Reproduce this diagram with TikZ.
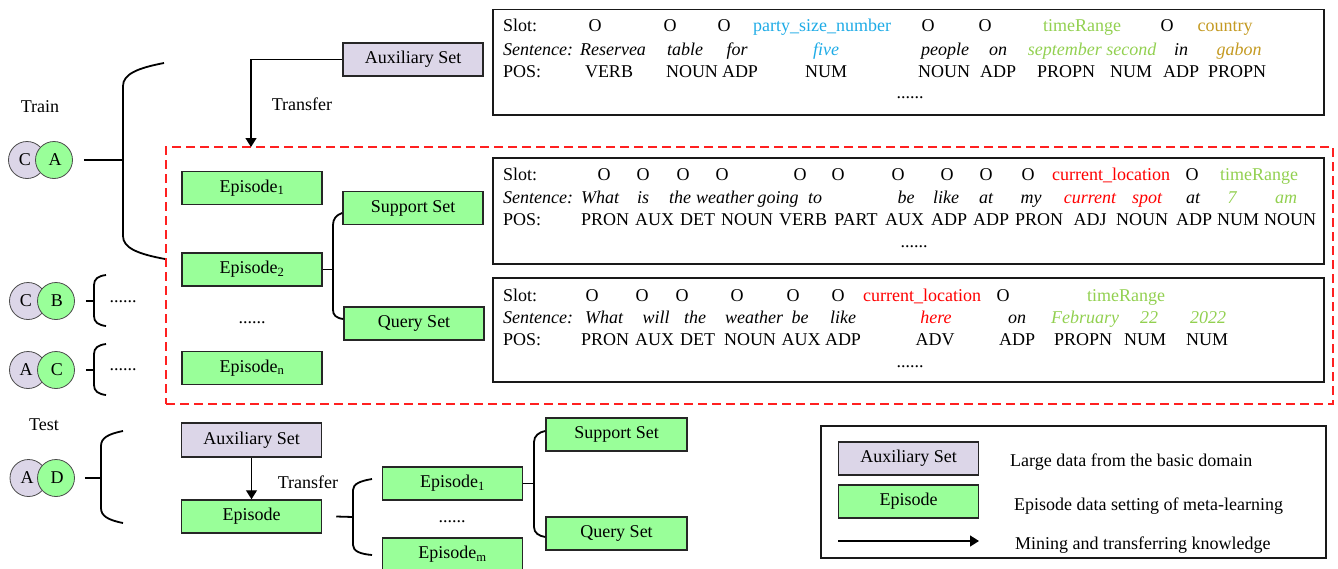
\documentclass[tikz,border=0pt]{standalone}
\usepackage{fontspec}
\setmainfont{Liberation Serif}
\usetikzlibrary{arrows.meta}
\definecolor{lav}{HTML}{DCD6E8}
\definecolor{epg}{HTML}{99FF99}
\definecolor{sblue}{HTML}{1EABE6}
\definecolor{sgreen}{HTML}{92D050}
\definecolor{sgold}{HTML}{C49A22}
\definecolor{sred}{HTML}{FF0000}
\definecolor{dred}{HTML}{FF2020}
\begin{document}
\begin{tikzpicture}[x=1pt,y=-1pt,
  font=\fontsize{18}{21}\selectfont,
  box/.style={draw=black!85, line width=1.5pt, minimum height=33pt, minimum width=140pt, inner sep=0pt},
  aux/.style={box, fill=lav},
  ep/.style={box, fill=epg},
  txtbox/.style={draw=black!90, line width=1.5pt, inner sep=0pt, minimum width=831pt},
  word/.style={anchor=base, inner sep=0pt},
  ital/.style={font=\fontsize{18}{21}\selectfont\itshape},
  lbl/.style={anchor=base west, inner sep=0pt},
  plain/.style={inner sep=0pt},
  brace/.style={line width=1.8pt, black},
  setc/.style={circle, draw=black!70, line width=0.8pt, minimum size=37pt, inner sep=0pt},
  arr/.style={line width=1.3pt, -{Triangle[length=9pt,width=11pt]}}]
\useasboundingbox (0,0) rectangle (1338,568);

% ---------- training part ----------
\node[plain] (train) at (40,107) {Train};
\node[setc, fill=lav] (c1) at (27,160) {};
\node[setc, fill=epg] (a1) at (54,160) {};
\node[plain] (c1t) at (25,160) {C};
\node[plain] (a1t) at (55,160) {A};
\node[setc, fill=lav] (c2) at (28,301) {};
\node[setc, fill=epg] (b2) at (56,301) {};
\node[plain] (c2t) at (26,301) {C};
\node[plain] (b2t) at (57,301) {B};
\node[setc, fill=lav] (a3) at (28,370) {};
\node[setc, fill=epg] (c3) at (56,370) {};
\node[plain] (a3t) at (26,370) {A};
\node[plain] (c3t) at (57,370) {C};

\coordinate (trb) at (123,160);
\coordinate (cbb) at (94,301);
\coordinate (acb) at (94,370);
\draw[brace] (164,63) .. controls (138,68) and (123,74) .. (123,86) -- (123,236)
  .. controls (123,248) and (138,254) .. (165,259);
\draw[brace] ([xshift=11pt]a1.east) -- (trb);
\draw[brace] (106,275) .. controls (98,276) and (94,279) .. (94,285) -- (94,316)
  .. controls (94,322) and (98,325) .. (106,326);
\draw[brace] ([xshift=11pt]b2.east) -- (cbb);
\draw[brace] (106,344) .. controls (98,345) and (94,348) .. (94,354) -- (94,385)
  .. controls (94,391) and (98,394) .. (106,395);
\draw[brace] ([xshift=11pt]c3.east) -- (acb);
\node[plain] (dcb) at (123,302) {......};
\node[plain] (dac) at (123,370) {......};

% red dashed episode region
\node[draw=dred, line width=1.5pt, dash pattern=on 9pt off 5pt, minimum width=1167pt,
  minimum height=257pt, inner sep=0pt] (region) at (749.5,275.5) {};

\node[aux] (taux) at (413,59.5) {Auxiliary Set};
\node[plain] (ttr) at (302,104) {Transfer};
\coordinate (tin) at (251,147);
\draw[arr] (taux.west) -| (tin);

\node[ep] (e1) at (252,188) {Episode\textsubscript{1}};
\node[ep] (e2) at (252,269.5) {Episode\textsubscript{2}};
\node[plain] (edots) at (252,323) {......};
\node[ep] (en) at (252,368) {Episode\textsubscript{n}};
\node[ep] (sup) at (413,208) {Support Set};
\node[ep] (que) at (414,323.5) {Query Set};
\coordinate (sq) at (333,269.5);
\draw[brace] (e2.east) -- (sq);
\draw[brace] ([yshift=-5pt]sup.west) .. controls (336,215) and (333,219) .. (333,225) -- (333,310)
  .. controls (333,315) and (336,318) .. ([yshift=4.5pt]que.west);

% ---------- example sentences ----------
\node[txtbox, minimum height=105.5pt] (box0) at (908.5,62.25) {};
\node[lbl] (s0) at (503,31.5) {Slot:};
\node[lbl, ital] (w0) at (503,55) {Sentence:};
\node[lbl] (p0) at (503,77) {POS:};
\foreach \x/\t [count=\i] in {595/O,670/O,724/O,822/\textcolor{sblue}{party\_size\_number},
  928/O,985/O,1082/\textcolor{sgreen}{timeRange},1167/O,1225/\textcolor{sgold}{country}}
  \node[word] (s0-\i) at (\x,31.5) {\t};
\foreach \x/\t [count=\i] in {613/Reservea,685/table,737/for,826/\textcolor{sblue}{five},
  945/people,998/on,1092/\textcolor{sgreen}{september second},1181/in,1239/\textcolor{sgold}{gabon}}
  \node[word, ital] (w0-\i) at (\x,55) {\t};
\foreach \x/\t [count=\i] in {609/VERB,692/NOUN,740/ADP,826/NUM,944/NOUN,998/ADP,
  1066/PROPN,1131/NUM,1181/ADP,1237/PROPN}
  \node[word] (p0-\i) at (\x,77) {\t};
\node[plain] (d0) at (910,98) {......};

\node[txtbox, minimum height=106pt] (box1) at (908.5,211) {};
\node[lbl] (s1) at (503,180) {Slot:};
\node[lbl, ital] (w1) at (503,203.3) {Sentence:};
\node[lbl] (p1) at (503,225) {POS:};
\foreach \x/\t [count=\i] in {604/O,643/O,683/O,722/O,800/O,838/O,898/O,947/O,986/O,1028/O,
  1111/\textcolor{sred}{current\_location},1192/O,1259/\textcolor{sgreen}{timeRange}}
  \node[word] (s1-\i) at (\x,180) {\t};
\foreach \x/\t [count=\i] in {600/What,643/is,680/the,725/weather,778/going,815/to,906/be,
  946/like,986/at,1031/my,1090/\textcolor{sred}{current},1147/\textcolor{sred}{spot},1193/at,
  1232/\textcolor{sgreen}{7},1286/\textcolor{sgreen}{am}}
  \node[word, ital] (w1-\i) at (\x,203.3) {\t};
\foreach \x/\t [count=\i] in {605/PRON,654.5/AUX,697.5/DET,747/NOUN,803/VERB,856/PART,904.5/AUX,
  949/ADP,991/ADP,1039/PRON,1090/ADJ,1142/NOUN,1194/ADP,1238/NUM,1290/NOUN}
  \node[word] (p1-\i) at (\x,225) {\t};
\node[plain] (d1) at (914,247) {......};

\node[txtbox, minimum height=104pt] (box2) at (908.5,330) {};
\node[lbl] (s2) at (503,301.7) {Slot:};
\node[lbl, ital] (w2) at (503,323.3) {Sentence:};
\node[lbl] (p2) at (503,345) {POS:};
\foreach \x/\t [count=\i] in {592/O,642/O,682/O,737/O,793/O,838/O,
  922/\textcolor{sred}{current\_location},1003/O,1126/\textcolor{sgreen}{timeRange}}
  \node[word] (s2-\i) at (\x,301.7) {\t};
\foreach \x/\t [count=\i] in {604/What,656/will,695/the,754/weather,800/be,843/like,
  936/\textcolor{sred}{here},1017/on,1085/\textcolor{sgreen}{February},1149/\textcolor{sgreen}{22},
  1208/\textcolor{sgreen}{2022}}
  \node[word, ital] (w2-\i) at (\x,323.3) {\t};
\foreach \x/\t [count=\i] in {605/PRON,654.5/AUX,697.5/DET,750/NOUN,801/AUX,843/ADP,935/ADV,
  1017/ADP,1083/PROPN,1145/NUM,1207/NUM}
  \node[word] (p2-\i) at (\x,345) {\t};
\node[plain] (d2) at (910,367) {......};

% ---------- test part ----------
\node[plain] (test) at (44,425) {Test};
\node[setc, fill=lav] (a4) at (28.5,478) {};
\node[setc, fill=epg] (d4) at (56,478) {};
\node[plain] (a4t) at (27,478) {A};
\node[plain] (d4t) at (57,478) {D};
\coordinate (teb) at (101,478);
\draw[brace] (123,431) .. controls (108,434) and (101,438) .. (101,446) -- (101,508)
  .. controls (101,516) and (108,520) .. (123,523);
\draw[brace] ([xshift=10pt]d4.east) -- (teb);

\node[aux, minimum height=34pt] (xaux) at (251.5,440) {Auxiliary Set};
\node[ep] (xep) at (251.5,516.5) {Episode};
\draw[arr] (xaux.south) -- (xep.north);
\node[plain] (xtr) at (308,482) {Transfer};
\coordinate (xeb) at (353,517);
\draw[brace] ([xshift=14pt]xep.east) -- (xeb);
\draw[brace] (372,479) .. controls (360,481) and (353,484) .. (353,490) -- (353,545)
  .. controls (353,551) and (360,554) .. (372,555);

\node[ep] (xe1) at (452.5,483.5) {Episode\textsubscript{1}};
\node[plain] (xdots) at (452,522) {......};
\node[ep] (xem) at (452.5,554.5) {Episode\textsubscript{m}};
\node[ep, minimum width=141pt] (xsup) at (616.5,434.5) {Support Set};
\node[ep, minimum width=141pt] (xque) at (616.5,533.5) {Query Set};
\coordinate (xsq) at (534,483.5);
\draw[brace] (xe1.east) -- (xsq);
\draw[brace] ([yshift=3.5pt]xsup.west) .. controls (539,432) and (534,436) .. (534,442) -- (534,527)
  .. controls (534,533) and (539,536) .. ([yshift=-3.5pt]xque.west);

% ---------- legend ----------
\node[draw=black!90, line width=1.2pt, minimum width=505pt, minimum height=132pt, inner sep=0pt]
  (legend) at (1073.5,492) {};
\node[aux] (laux) at (908.5,458.5) {Auxiliary Set};
\node[ep] (lep) at (908.5,501.5) {Episode};
\coordinate (la0) at (838,541);
\coordinate (la1) at (979,541);
\draw[arr] (la0) -- (la1);
\node[lbl] (lt1) at (1010,466) {Large data from the basic domain};
\node[lbl] (lt2) at (1014,510) {Episode data setting of meta-learning};
\node[lbl] (lt3) at (1015,549) {Mining and transferring knowledge};
\end{tikzpicture}
\end{document}
